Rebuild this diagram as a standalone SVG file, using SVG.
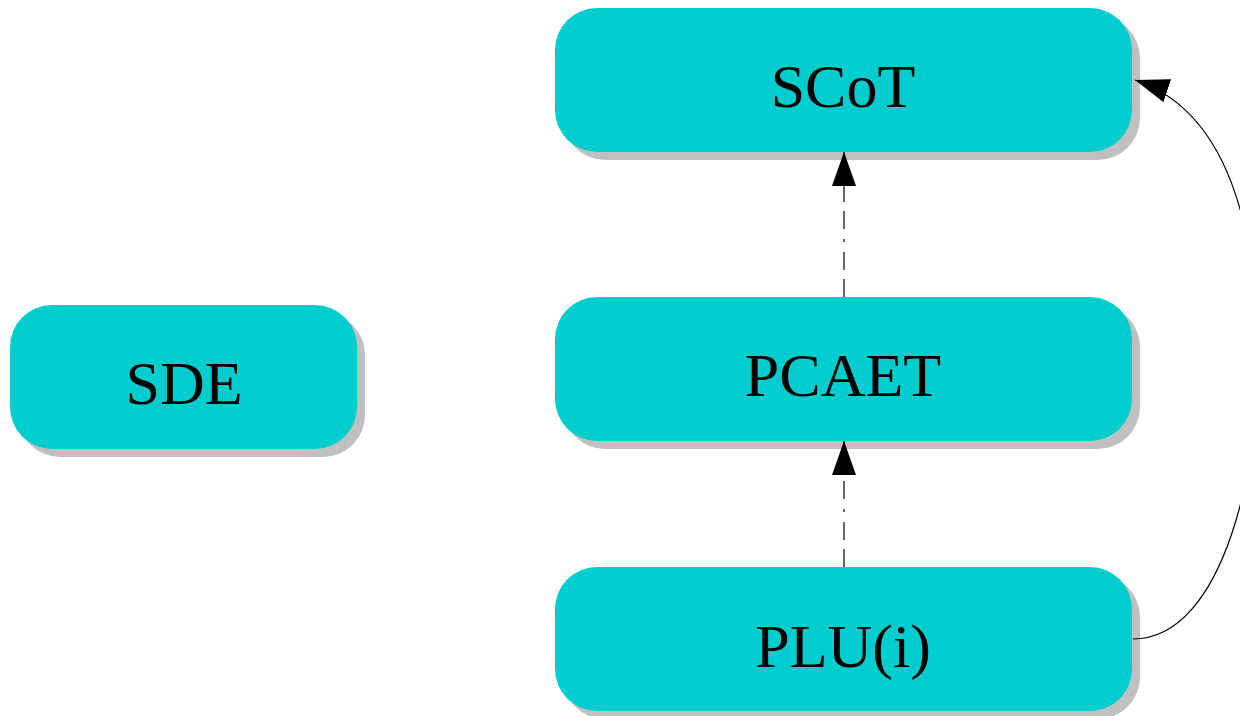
<svg xmlns="http://www.w3.org/2000/svg" width="1240" height="716" viewBox="0 0 1240 716">
<style>
.shadow{fill:#c0c0c0;}
.box{fill:#00cdcd;}
.lbl{font-family:"Liberation Serif","Times New Roman",serif;font-size:62px;fill:#000;text-anchor:middle;}
.edge{fill:none;stroke:#000;stroke-width:1.2;}
.dd{stroke-dasharray:18,9,18,10,3,10;}
</style>
<defs>
<marker id="ah" markerWidth="34" markerHeight="24" refX="34" refY="12" orient="auto" markerUnits="userSpaceOnUse">
<path d="M0,0 L34,12 L0,24 Z" fill="#000"/>
</marker>
</defs>
<rect width="1240" height="716" fill="#fff"/>
<g id="node-SCoT">
<rect class="shadow" x="563" y="16" width="577" height="144" rx="42"/>
<rect class="box" x="555" y="8" width="577" height="144" rx="42"/>
<text class="lbl" x="843" y="107">SCoT</text>
</g>
<g id="node-PCAET">
<rect class="shadow" x="563" y="305" width="577" height="144" rx="42"/>
<rect class="box" x="555" y="297" width="577" height="144" rx="42"/>
<text class="lbl" x="843" y="396">PCAET</text>
</g>
<g id="node-PLU">
<rect class="shadow" x="563" y="575" width="577" height="144" rx="42"/>
<rect class="box" x="555" y="567" width="577" height="144" rx="42"/>
<text class="lbl" x="843" y="667">PLU(i)</text>
</g>
<g id="node-SDE">
<rect class="shadow" x="18" y="313" width="347" height="144" rx="42"/>
<rect class="box" x="10" y="305" width="347" height="144" rx="42"/>
<text class="lbl" x="184" y="404">SDE</text>
</g>
<g id="connectors">
<path class="edge dd" d="M844,297 L844,152" marker-end="url(#ah)"/>
<path class="edge dd" d="M844,567 L844,441" marker-end="url(#ah)"/>
<path class="edge" d="M1133,639 C1225,639 1262,460 1258,340 C1254,220 1225,110 1135,80" marker-end="url(#ah)"/>
</g>
</svg>
